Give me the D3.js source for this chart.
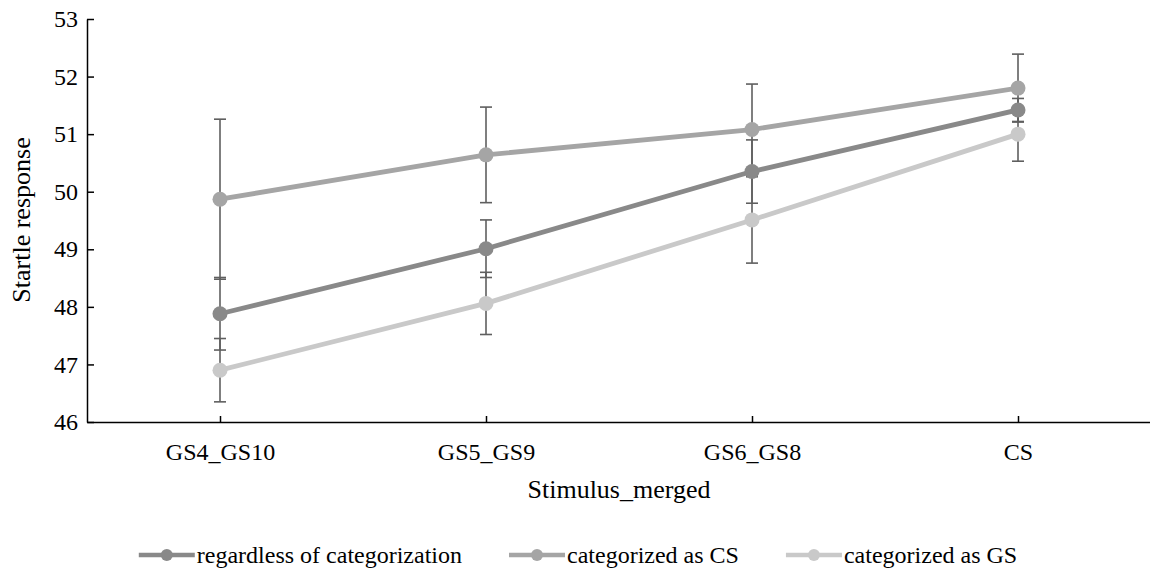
<!DOCTYPE html>
<html>
<head>
<meta charset="utf-8">
<script src="https://cdn.jsdelivr.net/npm/d3@7"></script>
<style>
  body { margin: 0; background: #fff; }
  svg { display: block; }
  svg text { font-family: "Liberation Serif", "Times New Roman", Times, serif; }
</style>
</head>
<body>
<div id="chart"></div>
<script>
var categories = ["GS4_GS10", "GS5_GS9", "GS6_GS8", "CS"];
var seriesNames = ["regardless of categorization", "categorized as CS", "categorized as GS"];
var regardlessMean = [47.88, 49.01, 50.35, 51.42];
var regardlessErr = [0.63, 0.50, 0.55, 0.20];
var asCsMean = [49.87, 50.64, 51.08, 51.80];
var asCsErr = [1.39, 0.83, 0.79, 0.59];
var asGsMean = [46.90, 48.06, 49.51, 51.00];
var asGsErr = [0.55, 0.54, 0.75, 0.47];
var yTicks = [46, 47, 48, 49, 50, 51, 52, 53];

var colors = ["#898989", "#a5a5a5", "#c9c9c9"];

var series = [
  { name: seriesNames[0], mean: regardlessMean, err: regardlessErr, color: colors[0] },
  { name: seriesNames[1], mean: asCsMean, err: asCsErr, color: colors[1] },
  { name: seriesNames[2], mean: asGsMean, err: asGsErr, color: colors[2] }
];

var margin = { top: 19, left: 87 },
  width = 1064,
  height = 403;

var svg = d3.select("#chart").append("svg")
  .attr("width", 1150)
  .attr("height", 572);

var g = svg.append("g")
  .attr("transform", "translate(" + margin.left + "," + margin.top + ")");

var x = d3.scalePoint()
  .domain(categories)
  .range([0, width])
  .padding(0.5);

var y = d3.scaleLinear()
  .domain([46, 53])
  .range([height, 0]);

// axes, ticks point inward like the excel original
var yAxis = d3.axisLeft(y)
  .tickValues(yTicks)
  .tickFormat(d3.format("d"))
  .tickSizeInner(-7)
  .tickSizeOuter(0)
  .tickPadding(9);

var yg = g.append("g").call(yAxis);

var xAxis = d3.axisBottom(x)
  .tickSizeInner(-6)
  .tickSizeOuter(0)
  .tickPadding(21);

var xg = g.append("g")
  .attr("transform", "translate(0," + height + ")")
  .call(xAxis);

[yg, xg].forEach(function (a) {
  a.attr("font-family", null).attr("font-size", null);
  a.selectAll("path, line").attr("stroke", "#000").attr("stroke-width", 1.5);
  a.selectAll("text")
    .style("font-size", "24px")
    .attr("fill", "#000");
});

// error bars
var cap = 6;
series.forEach(function (s) {
  var eb = g.append("g")
    .attr("stroke", "#5f5f5f")
    .attr("stroke-width", 1.6);
  categories.forEach(function (c, i) {
    var cx = x(c), lo = y(s.mean[i] - s.err[i]), hi = y(s.mean[i] + s.err[i]);
    eb.append("line").attr("x1", cx).attr("x2", cx).attr("y1", lo).attr("y2", hi);
    eb.append("line").attr("x1", cx - cap).attr("x2", cx + cap).attr("y1", lo).attr("y2", lo);
    eb.append("line").attr("x1", cx - cap).attr("x2", cx + cap).attr("y1", hi).attr("y2", hi);
  });
});

var line = d3.line()
  .x(function (d) { return x(d.c); })
  .y(function (d) { return y(d.v); });

series.forEach(function (s) {
  var pts = categories.map(function (c, i) { return { c: c, v: s.mean[i] }; });
  g.append("path")
    .datum(pts)
    .attr("fill", "none")
    .attr("stroke", s.color)
    .attr("stroke-width", 4.8)
    .attr("stroke-linejoin", "round")
    .attr("d", line);
  g.selectAll(null)
    .data(pts)
    .enter().append("circle")
    .attr("cx", function (d) { return x(d.c); })
    .attr("cy", function (d) { return y(d.v); })
    .attr("r", 7.5)
    .attr("fill", s.color);
});

// axis titles
svg.append("text")
  .attr("transform", "translate(30,220) rotate(-90)")
  .attr("text-anchor", "middle")
  .style("font-size", "26px")
  .text("Startle response");

svg.append("text")
  .attr("x", margin.left + width / 2)
  .attr("y", 498)
  .attr("text-anchor", "middle")
  .style("font-size", "26px")
  .text("Stimulus_merged");

// legend
var legend = svg.append("g");
var items = legend.selectAll("g")
  .data(series)
  .enter().append("g");

items.append("line")
  .attr("x1", 0).attr("x2", 56)
  .attr("y1", 0).attr("y2", 0)
  .attr("stroke", function (d) { return d.color; })
  .attr("stroke-width", 4.5);

items.append("circle")
  .attr("cx", 28).attr("cy", 0).attr("r", 6)
  .attr("fill", function (d) { return d.color; });

items.append("text")
  .attr("x", 58)
  .attr("y", 8)
  .style("font-size", "24px")
  .text(function (d) { return d.name; });

var pos = 0, gap = 47;
items.each(function () {
  var w = 58 + this.querySelector("text").getComputedTextLength();
  d3.select(this).attr("transform", "translate(" + pos + ",0)");
  pos += w + gap;
});
var total = pos - gap;
legend.attr("transform", "translate(" + (578 - total / 2) + ",555)");
</script>
</body>
</html>
